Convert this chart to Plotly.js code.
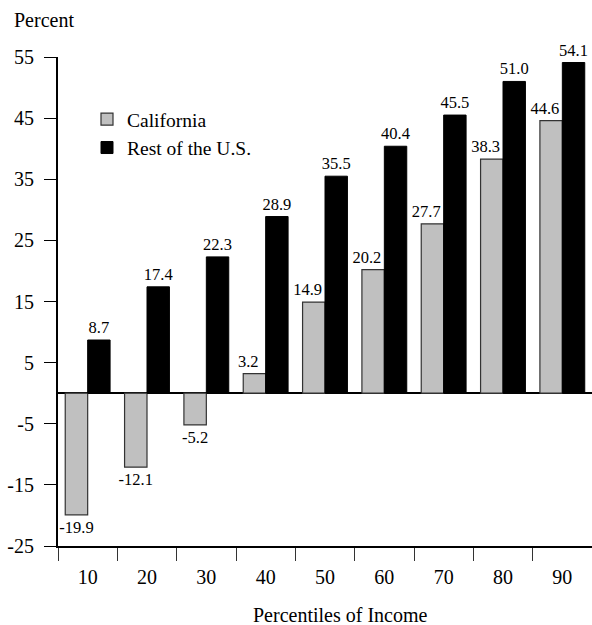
<!DOCTYPE html>
<html>
<head>
<meta charset="utf-8">
<script src="https://cdn.plot.ly/plotly-3.0.1.min.js"></script>
<style>html,body{margin:0;padding:0;background:#fff;}#chart{width:592px;height:625px;}</style>
</head>
<body>
<div id="chart"></div>
<script>
var categories = ['10','20','30','40','50','60','70','80','90'];
var california = [-19.9, -12.1, -5.2, 3.2, 14.9, 20.2, 27.7, 38.3, 44.6];
var restOfUS = [8.7, 17.4, 22.3, 28.9, 35.5, 40.4, 45.5, 51.0, 54.1];
var yTicks = [-25, -15, -5, 5, 15, 25, 35, 45, 55];

var font = 'Liberation Serif, Times New Roman, serif';
var nb = '\u00a0';
// positive California labels sit right-aligned over their bar; negative ones are centred below
var caTemplates = california.map(function (v) { return v < 0 ? '%{y:.1f}' : '%{y:.1f}' + nb + nb + nb; });

var traces = [
  {
    type: 'bar', name: 'California', x: categories, y: california,
    marker: {color: '#c0c0c0', line: {color: '#333333', width: 1.2}},
    texttemplate: caTemplates, textposition: 'outside', constraintext: 'none', cliponaxis: false,
    textfont: {family: font, size: 16.5, color: '#000'}, hoverinfo: 'skip'
  },
  {
    type: 'bar', name: 'Rest of the U.S.', x: categories, y: restOfUS,
    marker: {color: '#000000', line: {color: '#000000', width: 1}},
    texttemplate: '%{y:.1f}', textposition: 'outside', constraintext: 'none', cliponaxis: false,
    textfont: {family: font, size: 16.5, color: '#000'}, hoverinfo: 'skip'
  }
];

var layout = {
  width: 592, height: 625,
  margin: {l: 58, r: 0, t: 57, b: 79, autoexpand: false},
  paper_bgcolor: '#fff', plot_bgcolor: '#fff',
  font: {family: font, size: 20, color: '#000'},
  barmode: 'group', bargap: 0.244, bargroupgap: 0,
  showlegend: true,
  legend: {
    x: (87 - 58) / 534, xref: 'paper', y: (546 - 100) / 489, yref: 'paper',
    xanchor: 'left', yanchor: 'top',
    font: {family: font, size: 19.5, color: '#000'},
    bgcolor: 'rgba(0,0,0,0)', tracegroupgap: 0, itemwidth: 30
  },
  title: {
    text: 'Percent', xref: 'container', x: 14/592, xanchor: 'left',
    yref: 'container', y: 1 - 20/625, yanchor: 'middle',
    font: {family: font, size: 20, color: '#000'}
  },
  xaxis: {
    type: 'category', tickson: 'boundaries', ticks: 'outside', ticklen: 13, tickwidth: 1, tickcolor: '#333',
    showline: true, linecolor: '#000', linewidth: 2, showgrid: false, zeroline: false,
    tickfont: {family: font, size: 20, color: '#000'}, ticklabelstandoff: 12,
    fixedrange: true
  },
  yaxis: {
    range: [-25, 55], tickvals: yTicks, ticktext: yTicks.map(String),
    ticks: 'outside', ticklen: 12, tickwidth: 1, tickcolor: '#000',
    showline: true, linecolor: '#000', linewidth: 2, showgrid: false,
    zeroline: true, zerolinecolor: '#000', zerolinewidth: 2.5,
    tickfont: {family: font, size: 20, color: '#000'}, ticklabelstandoff: 6,
    fixedrange: true
  },
  annotations: [
    {
      text: 'Percentiles of Income', xref: 'paper', x: (340 - 58) / 534, xanchor: 'center',
      yref: 'paper', y: -(615 - 546) / 489, yanchor: 'middle', showarrow: false,
      font: {family: font, size: 20, color: '#000'}
    }
  ]
};

Plotly.newPlot('chart', traces, layout, {staticPlot: true, displayModeBar: false});
</script>
</body>
</html>
